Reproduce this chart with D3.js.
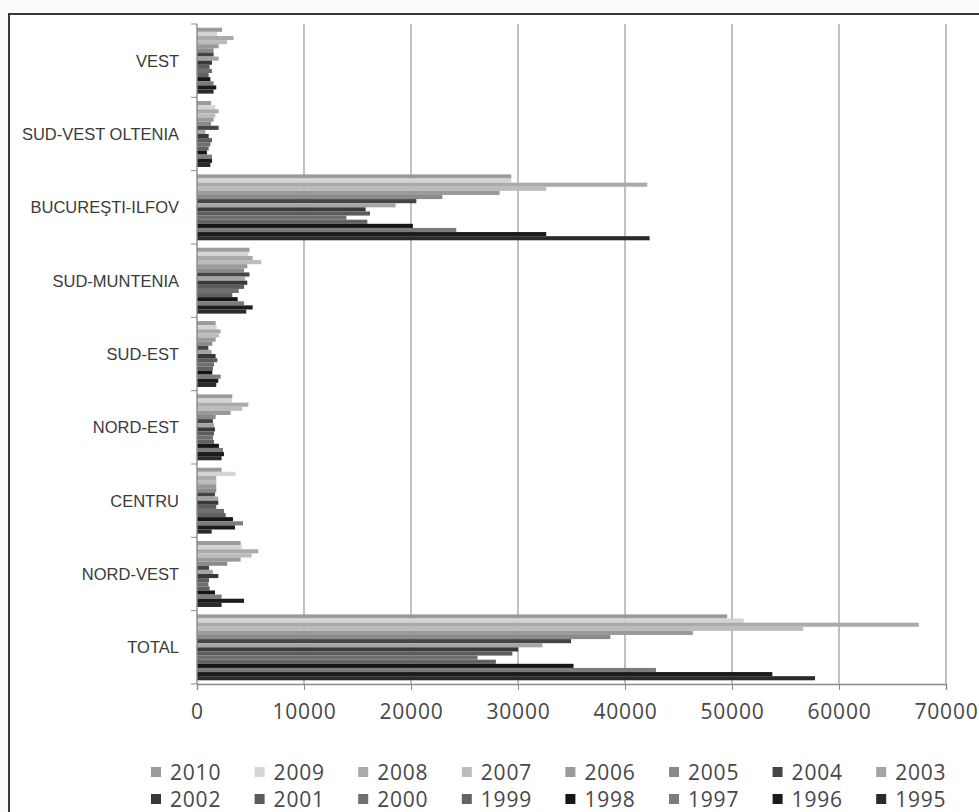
<!DOCTYPE html>
<html>
<head>
<meta charset="utf-8">
<script src="https://cdn.jsdelivr.net/npm/d3@7"></script>
<style>
  html, body { margin: 0; padding: 0; background: #fbfbfb; }
  svg { display: block; }
</style>
</head>
<body>
<svg id="chart" width="979" height="812"></svg>
<script>
// series, top to bottom inside every group
var years = ['2010','2009','2008','2007','2006','2005','2004','2003',
             '2002','2001','2000','1999','1998','1997','1996','1995'];
var yearColors = ['#9b9b9b','#d4d4d4','#aaaaaa','#bcbcbc','#9a9a9a','#8a8a8a','#454545','#a4a4a4',
                  '#383838','#5c5c5c','#6f6f6f','#626262','#161616','#7c7c7c','#1c1c1c','#2b2b2b'];

// categories, top to bottom
var regions = ['VEST','SUD-VEST OLTENIA','BUCUREŞTI-ILFOV','SUD-MUNTENIA','SUD-EST',
               'NORD-EST','CENTRU','NORD-VEST','TOTAL'];

var vest      = [2340, 1870, 3420, 2800, 2020, 1550, 1550, 2020, 1400, 1180, 1400, 1090, 1250, 1550, 1800, 1550];
var sudVest   = [1310, 1710, 2020, 1710, 1550, 1310, 2020, 775, 1090, 1400, 1250, 1090, 930, 1400, 1400, 1250];
var bucuresti = [29370, 29370, 42080, 32640, 28280, 22930, 20500, 18560, 15760, 16170, 13960, 15920, 20180, 24230, 32640, 42300];
var sudMunt   = [4900, 4800, 5200, 6000, 4700, 4400, 4900, 4500, 4700, 4400, 3900, 3300, 3800, 4400, 5200, 4600];
var sudEst    = [1740, 1840, 2210, 2050, 1740, 1430, 1060, 1370, 1740, 1900, 1590, 1490, 1430, 2210, 1990, 1800];
var nordEst   = [3300, 3240, 4800, 4230, 3150, 1740, 1490, 1590, 1680, 1590, 1490, 1590, 2050, 2430, 2520, 2300];
var centru    = [2300, 3610, 1800, 1800, 1800, 1800, 1680, 1990, 1990, 1800, 2520, 2680, 3360, 4300, 3550, 1370];
var nordVest  = [4080, 4170, 5730, 5110, 4080, 2830, 1120, 1490, 1990, 1120, 1060, 1180, 1680, 2300, 4390, 2300];
var total     = [49550, 51090, 67460, 56660, 46340, 38630, 34960, 32280, 30020, 29470, 26220, 27930, 35190, 42890, 53770, 57760];

var xTicks = [0, 10000, 20000, 30000, 40000, 50000, 60000, 70000];

var values = [vest, sudVest, bucuresti, sudMunt, sudEst, nordEst, centru, nordVest, total];

var svg = d3.select('#chart');

// scanned page frame
svg.append('rect')
  .attr('x', 9).attr('y', 14)
  .attr('width', 990).attr('height', 820)
  .attr('fill', '#ffffff')
  .attr('stroke', '#3a3a3a')
  .attr('stroke-width', 2);

var plotLeft = 197, plotRight = 946, plotTop = 24, plotBottom = 684;

var x = d3.scaleLinear().domain([0, 70000]).range([plotLeft, plotRight]);
var y = d3.scaleBand().domain(regions).range([plotTop, plotBottom]).padding(0);
var inner = d3.scaleBand().domain(years).range([0, y.bandwidth()])
  .paddingInner(0).paddingOuter(0.9);
var color = d3.scaleOrdinal().domain(years).range(yearColors);

// vertical gridlines
svg.append('g').selectAll('line')
  .data(xTicks.slice(1))
  .enter().append('line')
    .attr('x1', function(d) { return x(d); })
    .attr('x2', function(d) { return x(d); })
    .attr('y1', plotTop).attr('y2', plotBottom)
    .attr('stroke', '#a6a6a6')
    .attr('stroke-width', 1.4);

// bars
var groups = svg.append('g').selectAll('g')
  .data(regions)
  .enter().append('g')
    .attr('transform', function(d) { return 'translate(0,' + y(d) + ')'; });

groups.selectAll('rect')
  .data(function(d, i) {
    return years.map(function(yr, j) { return { year: yr, value: values[i][j] }; });
  })
  .enter().append('rect')
    .attr('x', x(0))
    .attr('y', function(d) { return inner(d.year); })
    .attr('height', inner.bandwidth())
    .attr('width', function(d) { return x(d.value) - x(0); })
    .attr('fill', function(d) { return color(d.year); });

// x axis
var xAxis = svg.append('g')
  .attr('transform', 'translate(0,' + plotBottom + ')')
  .call(d3.axisBottom(x).tickValues(xTicks).tickSize(6).tickPadding(14).tickFormat(d3.format('d')));
xAxis.select('.domain').attr('stroke', '#8a8a8a').attr('stroke-width', 1.4);
xAxis.selectAll('.tick line').attr('stroke', '#8a8a8a');
xAxis.selectAll('text')
  .attr('fill', '#474747')
  .style('font-family', '"Open Sans", sans-serif')
  .style('font-size', '21px')
  .style('letter-spacing', '0.8px');

// y axis: line plus ticks on category boundaries
var yAxis = svg.append('g');
yAxis.append('line')
  .attr('x1', plotLeft).attr('x2', plotLeft)
  .attr('y1', plotTop).attr('y2', plotBottom)
  .attr('stroke', '#8a8a8a').attr('stroke-width', 1.4);
var bounds = regions.map(function(r) { return y(r); }).concat([plotBottom]);
yAxis.selectAll('.ytick')
  .data(bounds)
  .enter().append('line')
    .attr('class', 'ytick')
    .attr('x1', plotLeft - 6).attr('x2', plotLeft)
    .attr('y1', function(d) { return d; })
    .attr('y2', function(d) { return d; })
    .attr('stroke', '#8a8a8a');
yAxis.selectAll('text')
  .data(regions)
  .enter().append('text')
    .attr('x', 179)
    .attr('y', function(d) { return y(d) + y.bandwidth() / 2; })
    .attr('dy', '0.36em')
    .attr('text-anchor', 'end')
    .attr('fill', '#3a3a3a')
    .style('font-family', '"Liberation Sans", Arial, sans-serif')
    .style('font-size', '16.5px')
    .text(function(d) { return d; });

// legend, two rows of eight
var legend = svg.append('g').selectAll('g')
  .data(years)
  .enter().append('g')
    .attr('transform', function(d, i) {
      return 'translate(' + (151 + (i % 8) * 103.6) + ',' + (772 + Math.floor(i / 8) * 27) + ')';
    });
legend.append('rect')
  .attr('x', 0).attr('y', -5)
  .attr('width', 10).attr('height', 10)
  .attr('fill', function(d) { return color(d); });
legend.append('text')
  .attr('x', 19).attr('dy', '0.36em')
  .attr('fill', '#474747')
  .style('font-family', '"Open Sans", sans-serif')
  .style('font-size', '21px')
  .style('letter-spacing', '0.8px')
  .text(function(d) { return d; });
</script>
</body>
</html>
